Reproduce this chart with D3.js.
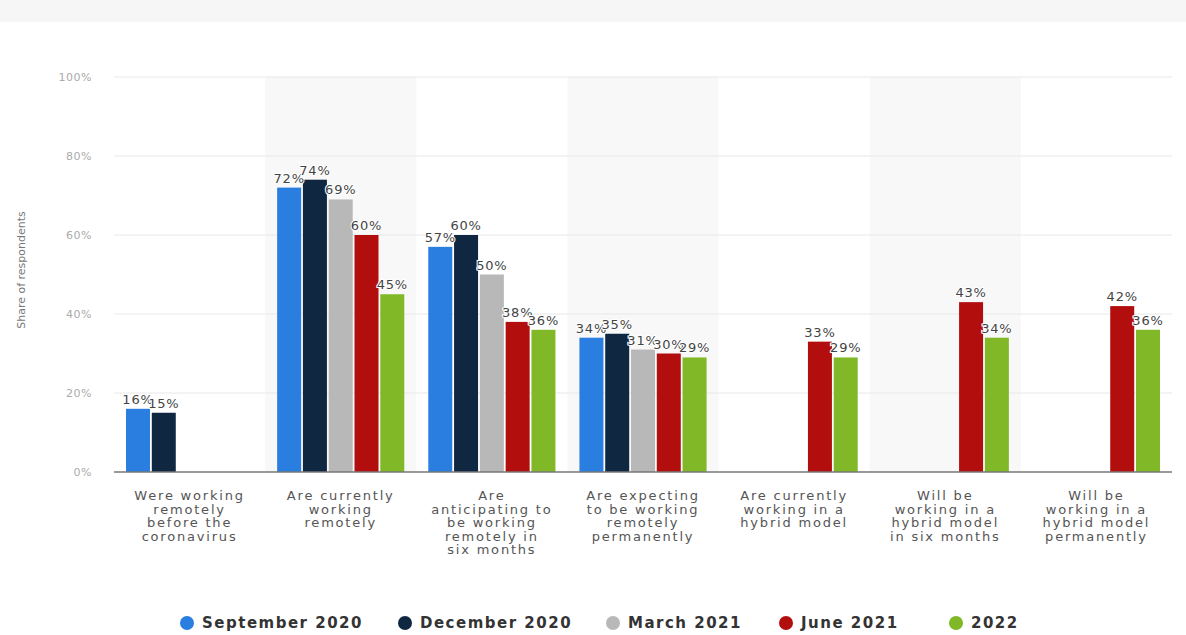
<!DOCTYPE html>
<html>
<head>
<meta charset="utf-8">
<script src="https://cdn.jsdelivr.net/npm/d3@7.9.0/dist/d3.min.js"></script>
<style>
  body { margin: 0; background: #fff; }
  svg { display: block; font-family: 'DejaVu Sans', sans-serif; }
</style>
</head>
<body>
<svg id="chart" width="1186" height="635"></svg>
<script>
const categories = [
  ['Were working', 'remotely', 'before the', 'coronavirus'],
  ['Are currently', 'working', 'remotely'],
  ['Are', 'anticipating to', 'be working', 'remotely in', 'six months'],
  ['Are expecting', 'to be working', 'remotely', 'permanently'],
  ['Are currently', 'working in a', 'hybrid model'],
  ['Will be', 'working in a', 'hybrid model', 'in six months'],
  ['Will be', 'working in a', 'hybrid model', 'permanently']
];
const seriesNames = ['September 2020', 'December 2020', 'March 2021', 'June 2021', '2022'];
const colors = ['#2a7ee0', '#0f2741', '#b8b8b8', '#b20e0e', '#80b828'];

const sep2020 = [16, 72, 57, 34, null, null, null];
const dec2020 = [15, 74, 60, 35, null, null, null];
const mar2021 = [null, 69, 50, 31, null, null, null];
const jun2021 = [null, 60, 38, 30, 33, 43, 42];
const y2022 = [null, 45, 36, 29, 29, 34, 36];
const series = [sep2020, dec2020, mar2021, jun2021, y2022];

const yTicks = [0, 20, 40, 60, 80, 100];

const svg = d3.select('#chart');

// top strip
svg.append('rect').attr('x', 0).attr('y', 0).attr('width', 1186).attr('height', 22).attr('fill', '#f6f6f6');

const x = d3.scaleBand().domain(d3.range(categories.length)).range([114, 1172]);
const xs = d3.scaleBand().domain(d3.range(seriesNames.length)).range([12, x.bandwidth() - 12]).paddingInner(0.07);
const y = d3.scaleLinear().domain([0, 100]).range([472, 77]);

// alternating bands
svg.selectAll('rect.band')
  .data(d3.range(categories.length).filter((i) => i % 2 === 1))
  .join('rect')
  .attr('class', 'band')
  .attr('x', (i) => x(i))
  .attr('y', y(100))
  .attr('width', x.bandwidth())
  .attr('height', y(0) - y(100))
  .attr('fill', '#f8f8f8');

// grid
svg.selectAll('line.grid')
  .data(yTicks.slice(1))
  .join('line')
  .attr('class', 'grid')
  .attr('x1', 114).attr('x2', 1172)
  .attr('y1', (d) => y(d)).attr('y2', (d) => y(d))
  .attr('stroke', '#e8e8e8');

svg.selectAll('text.ytick')
  .data(yTicks)
  .join('text')
  .attr('class', 'ytick')
  .attr('x', 92)
  .attr('y', (d) => y(d) + 4)
  .attr('text-anchor', 'end')
  .attr('font-size', 11)
  .attr('letter-spacing', 0.5)
  .attr('fill', '#aaa')
  .text((d) => d + '%');

svg.append('text')
  .attr('transform', 'translate(25,270) rotate(-90)')
  .attr('text-anchor', 'middle')
  .attr('font-size', 11)
  .attr('fill', '#777')
  .text('Share of respondents');

// bars
series.forEach((vals, s) => {
  const g = svg.append('g');
  const pts = vals.map((v, i) => ({ v, i })).filter((d) => d.v != null);
  g.selectAll('rect')
    .data(pts)
    .join('rect')
    .attr('x', (d) => x(d.i) + xs(s))
    .attr('y', (d) => y(d.v))
    .attr('width', xs.bandwidth())
    .attr('height', (d) => y(0) - y(d.v))
    .attr('fill', colors[s]);
});

// labels
series.forEach((vals, s) => {
  const pts = vals.map((v, i) => ({ v, i })).filter((d) => d.v != null);
  svg.append('g').selectAll('text')
    .data(pts)
    .join('text')
    .attr('x', (d) => x(d.i) + xs(s) + xs.bandwidth() / 2)
    .attr('y', (d) => y(d.v) - 5)
    .attr('text-anchor', 'middle')
    .attr('font-size', 13)
    .attr('letter-spacing', 0.8)
    .attr('fill', '#444')
    .attr('stroke', '#fff')
    .attr('stroke-width', 2)
    .attr('paint-order', 'stroke')
    .text((d) => d.v + '%');
});

// baseline
svg.append('line')
  .attr('x1', 114).attr('x2', 1172)
  .attr('y1', y(0)).attr('y2', y(0))
  .attr('stroke', '#777').attr('stroke-width', 1.5);

// category labels
categories.forEach((lines, i) => {
  const t = svg.append('text')
    .attr('text-anchor', 'middle')
    .attr('font-size', 13)
    .attr('letter-spacing', 1.8)
    .attr('fill', '#555');
  lines.forEach((line, j) => {
    t.append('tspan')
      .attr('x', x(i) + x.bandwidth() / 2)
      .attr('y', 500 + j * 13.5)
      .text(line);
  });
});

// legend
const legendX = [187, 405, 613, 786, 956];
const legend = svg.append('g');
seriesNames.forEach((name, s) => {
  legend.append('circle')
    .attr('cx', legendX[s]).attr('cy', 623).attr('r', 7)
    .attr('fill', colors[s]);
  legend.append('text')
    .attr('x', legendX[s] + 15).attr('y', 628)
    .attr('font-size', 15)
    .attr('font-weight', 'bold')
    .attr('letter-spacing', 1.5)
    .attr('fill', '#333')
    .text(name);
});
</script>
</body>
</html>
